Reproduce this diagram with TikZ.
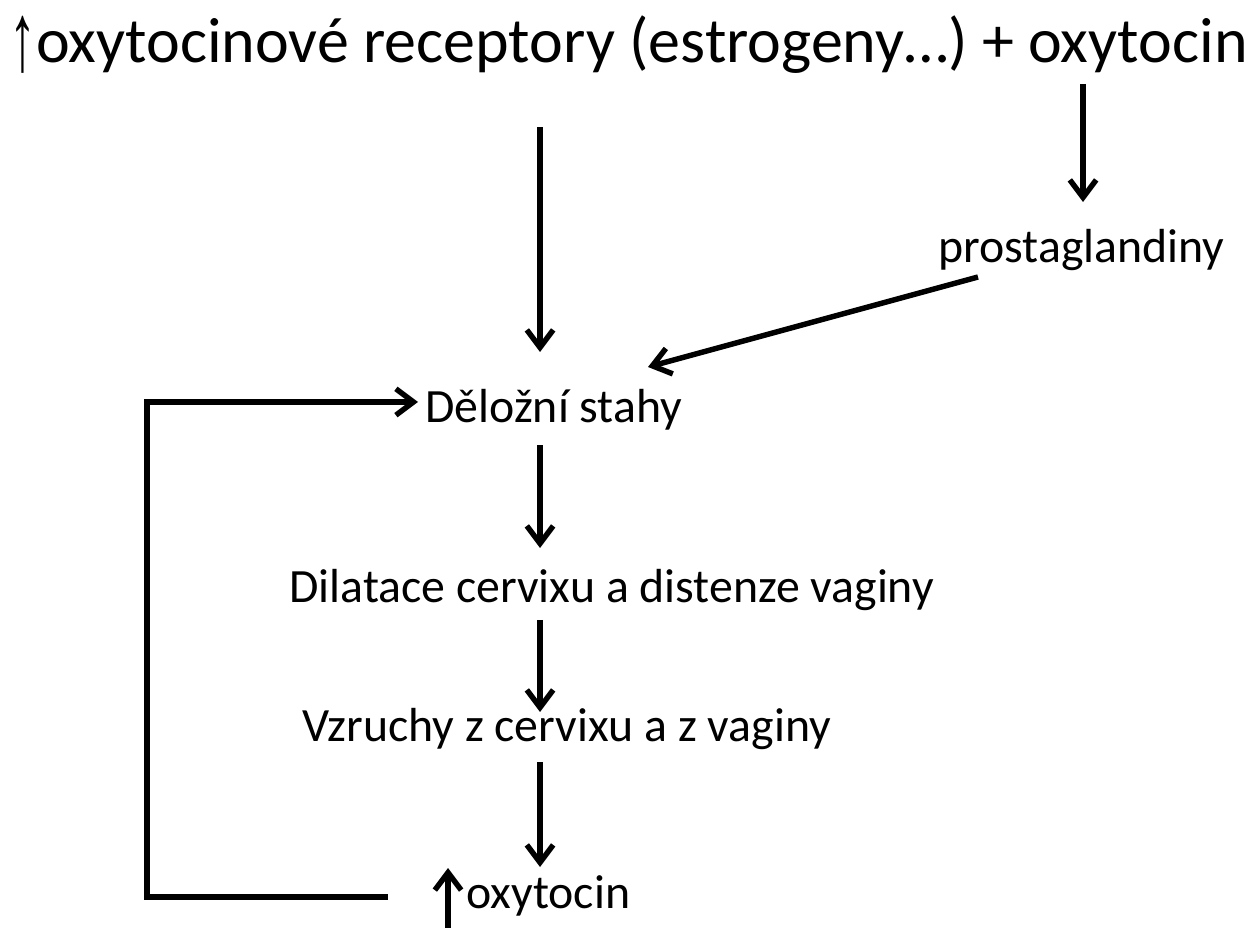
\documentclass[tikz,border=0pt]{standalone}
\usepackage{fontspec}
\setmainfont{Carlito}
\newfontfamily\arrowfont{Liberation Sans}
\usepackage{tikz}
\usetikzlibrary{arrows.meta,calc}

\tikzset{
  flow/.style={-{Straight Barb[length=10pt,width=15pt]}, line width=3.1pt},
  bigtext/.style={anchor=base west, inner sep=0pt, font=\fontsize{36.4}{40}\selectfont},
  steptext/.style={anchor=base west, inner sep=0pt, font=\fontsize{27.2}{30}\selectfont}
}

\begin{document}
\begin{tikzpicture}[x=0.02cm,y=-0.02cm]
\useasboundingbox (0,0) rectangle (1258,928);

% Texts
\node[bigtext] (receptory) at (9,63) {\raisebox{-4.5pt}{\resizebox{0.42em}{\height}{\arrowfont\fontsize{55}{55}\selectfont ↑}}oxytocinové receptory (estrogeny…) + oxytocin};
\node[steptext] (prosta) at (938,263) {prostaglandiny};
\node[steptext] (stahy) at (425,423) {Děložní stahy};
\node[steptext] (dilatace) at (289,603) {Dilatace cervixu a distenze vaginy};
\node[steptext] (vzruchy) at (302,742) {Vzruchy z cervixu a z vaginy};
\node[steptext] (oxy) at (466,908) {oxytocin};

% Axes of the vertical arrows
\coordinate (axis) at (540,0);
\coordinate (rightaxis) at (1083,0);

% Arrows
\draw[flow] ($(receptory.base -| axis)+(0,64)$) -- ($(stahy.base -| axis)+(0,-71)$);
\draw[flow] ($(receptory.base -| rightaxis)+(0,21)$) -- ($(prosta.base -| rightaxis)+(0,-61)$);
\draw[flow] ($(prosta.base west)+(40,14)$) -- ($(stahy.base west)+(223,-56)$);
\draw[flow] ($(stahy.base -| axis)+(0,22)$) -- ($(dilatace.base -| axis)+(0,-55)$);
\draw[flow] ($(dilatace.base -| axis)+(0,17)$) -- ($(vzruchy.base -| axis)+(0,-30)$);
\draw[flow] ($(vzruchy.base -| axis)+(0,20)$) -- ($(oxy.base -| axis)+(0,-41)$);

% Feedback loop
\draw[flow] ($(oxy.base west)+(-78,-11)$) -- ++(-241,0) |- ($(stahy.base west)+(-7,-21)$);

% Up arrow before oxytocin
\coordinate (oxyfoot) at ($(oxy.base west)+(-18,30)$);
\draw[flow] (oxyfoot) -- ($(oxy.base west)+(-18,-40)$);

\end{tikzpicture}
\end{document}
